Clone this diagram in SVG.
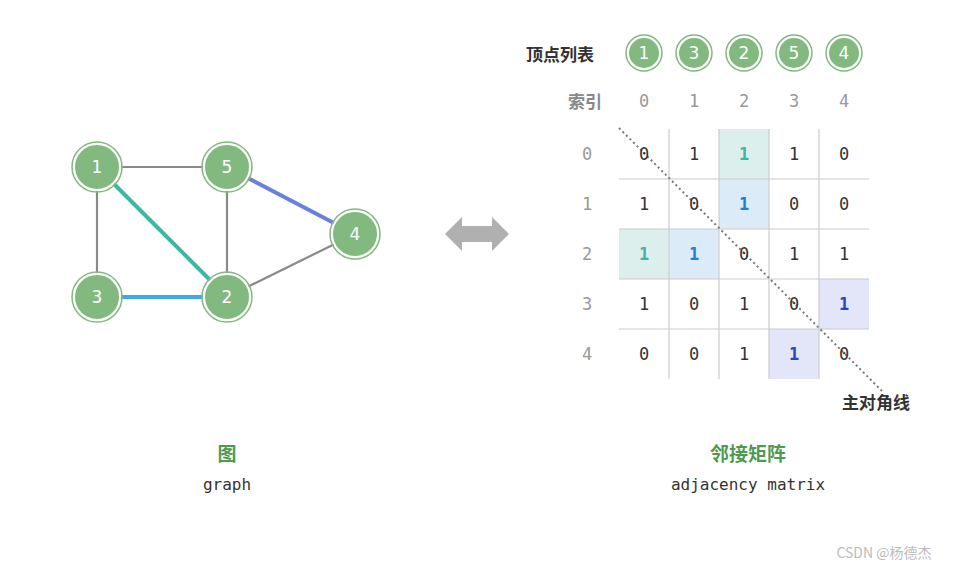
<svg xmlns="http://www.w3.org/2000/svg" width="953" height="570" viewBox="0 0 953 570">
<style>
.nc{fill:#82b97f;stroke:#fff;stroke-width:2}
.no{fill:none;stroke:#82b97f;stroke-width:1.5}
.nt{font-family:"DejaVu Sans",sans-serif;font-size:17px;fill:#fff;text-anchor:middle}
.m{font-family:"DejaVu Sans Mono",monospace;font-size:17px;fill:#333;text-anchor:middle}
.ix{font-family:"DejaVu Sans Mono",monospace;font-size:17px;fill:#999;text-anchor:middle}
.cj{font-family:"Noto Sans CJK SC",sans-serif;font-weight:bold}
.g{stroke:#ccc;stroke-width:1.2}
.t{fill:#3fb5a8;font-weight:bold}
.b{fill:#1f7fd0;font-weight:bold}
.d{fill:#2a45c0;font-weight:bold}
</style>
<rect width="953" height="570" fill="#fff"/>
<g id="edges" stroke-width="2.2" fill="none">
<line x1="97" y1="167" x2="227" y2="167" stroke="#8a8a8a"/>
<line x1="97" y1="167" x2="97" y2="297" stroke="#8a8a8a"/>
<line x1="227" y1="167" x2="227" y2="297" stroke="#8a8a8a"/>
<line x1="227" y1="297" x2="355" y2="234" stroke="#8a8a8a"/>
<line x1="97" y1="167" x2="227" y2="297" stroke="#3fb5a8" stroke-width="4"/>
<line x1="97" y1="297" x2="227" y2="297" stroke="#3ea8ea" stroke-width="4"/>
<line x1="227" y1="167" x2="355" y2="234" stroke="#6a80de" stroke-width="4"/>
</g>
<g id="n1"><circle class="nc" cx="97" cy="167" r="23"/><circle class="no" cx="97" cy="167" r="25"/><text class="nt" x="97" y="173">1</text></g>
<g id="n5"><circle class="nc" cx="227" cy="167" r="23"/><circle class="no" cx="227" cy="167" r="25"/><text class="nt" x="227" y="173">5</text></g>
<g id="n4"><circle class="nc" cx="355" cy="234" r="23"/><circle class="no" cx="355" cy="234" r="25"/><text class="nt" x="355" y="240">4</text></g>
<g id="n3"><circle class="nc" cx="97" cy="297" r="23"/><circle class="no" cx="97" cy="297" r="25"/><text class="nt" x="97" y="303">3</text></g>
<g id="n2"><circle class="nc" cx="227" cy="297" r="23"/><circle class="no" cx="227" cy="297" r="25"/><text class="nt" x="227" y="303">2</text></g>
<g id="arrow"><polygon points="445,234 462,217 462,226 492,226 492,217 509,234 492,251 492,242 462,242 462,251" fill="#b0b0b0"/></g>
<g id="captions">
<text x="227" y="461" class="cj" font-size="19" fill="#4f9a4f" text-anchor="middle">图</text>
<text x="227" y="490" font-family="DejaVu Sans Mono,monospace" font-size="16" fill="#333" text-anchor="middle">graph</text>
<text x="748" y="461" class="cj" font-size="19" fill="#4f9a4f" text-anchor="middle">邻接矩阵</text>
<text x="748" y="490" font-family="DejaVu Sans Mono,monospace" font-size="16" fill="#333" text-anchor="middle">adjacency matrix</text>
<text x="876" y="409" class="cj" font-size="17" fill="#333" text-anchor="middle">主对角线</text>
<text x="560" y="61" class="cj" font-size="17" fill="#333" text-anchor="middle">顶点列表</text>
<text x="585" y="108" class="cj" font-size="17" fill="#888" text-anchor="middle">索引</text>
<text x="884" y="558" font-family="Noto Sans CJK SC,sans-serif" font-size="14" fill="#bbb" text-anchor="middle">CSDN @杨德杰</text>
</g>
<g id="list">
<circle class="nc" cx="644" cy="53" r="16"/><circle class="no" cx="644" cy="53" r="18"/><text class="nt" x="644" y="59" font-size="15">1</text>
<circle class="nc" cx="694" cy="53" r="16"/><circle class="no" cx="694" cy="53" r="18"/><text class="nt" x="694" y="59" font-size="15">3</text>
<circle class="nc" cx="744" cy="53" r="16"/><circle class="no" cx="744" cy="53" r="18"/><text class="nt" x="744" y="59" font-size="15">2</text>
<circle class="nc" cx="794" cy="53" r="16"/><circle class="no" cx="794" cy="53" r="18"/><text class="nt" x="794" y="59" font-size="15">5</text>
<circle class="nc" cx="844" cy="53" r="16"/><circle class="no" cx="844" cy="53" r="18"/><text class="nt" x="844" y="59" font-size="15">4</text>
</g>
<g id="matrix">
<rect x="719" y="129" width="50" height="50" fill="#dcefec"/>
<rect x="719" y="179" width="50" height="50" fill="#dcebf8"/>
<rect x="619" y="229" width="50" height="50" fill="#dcefec"/>
<rect x="669" y="229" width="50" height="50" fill="#dcebf8"/>
<rect x="819" y="279" width="50" height="50" fill="#e2e6f8"/>
<rect x="769" y="329" width="50" height="50" fill="#e2e6f8"/>
<line class="g" x1="669" y1="129" x2="669" y2="379"/>
<line class="g" x1="719" y1="129" x2="719" y2="379"/>
<line class="g" x1="769" y1="129" x2="769" y2="379"/>
<line class="g" x1="819" y1="129" x2="819" y2="379"/>
<line class="g" x1="619" y1="179" x2="869" y2="179"/>
<line class="g" x1="619" y1="229" x2="869" y2="229"/>
<line class="g" x1="619" y1="279" x2="869" y2="279"/>
<line class="g" x1="619" y1="329" x2="869" y2="329"/>
<line x1="619" y1="128" x2="882" y2="391" stroke="#777" stroke-width="2" stroke-dasharray="2,3"/>
<text class="ix" x="644" y="107">0</text><text class="ix" x="694" y="107">1</text><text class="ix" x="744" y="107">2</text><text class="ix" x="794" y="107">3</text><text class="ix" x="844" y="107">4</text>
<text class="ix" x="587" y="160">0</text><text class="ix" x="587" y="210">1</text><text class="ix" x="587" y="260">2</text><text class="ix" x="587" y="310">3</text><text class="ix" x="587" y="360">4</text>
<text class="m" x="644" y="160">0</text><text class="m" x="694" y="160">1</text><text class="m t" x="744" y="160">1</text><text class="m" x="794" y="160">1</text><text class="m" x="844" y="160">0</text>
<text class="m" x="644" y="210">1</text><text class="m" x="694" y="210">0</text><text class="m b" x="744" y="210">1</text><text class="m" x="794" y="210">0</text><text class="m" x="844" y="210">0</text>
<text class="m t" x="644" y="260">1</text><text class="m b" x="694" y="260">1</text><text class="m" x="744" y="260">0</text><text class="m" x="794" y="260">1</text><text class="m" x="844" y="260">1</text>
<text class="m" x="644" y="310">1</text><text class="m" x="694" y="310">0</text><text class="m" x="744" y="310">1</text><text class="m" x="794" y="310">0</text><text class="m d" x="844" y="310">1</text>
<text class="m" x="644" y="360">0</text><text class="m" x="694" y="360">0</text><text class="m" x="744" y="360">1</text><text class="m d" x="794" y="360">1</text><text class="m" x="844" y="360">0</text>
</g>
</svg>
